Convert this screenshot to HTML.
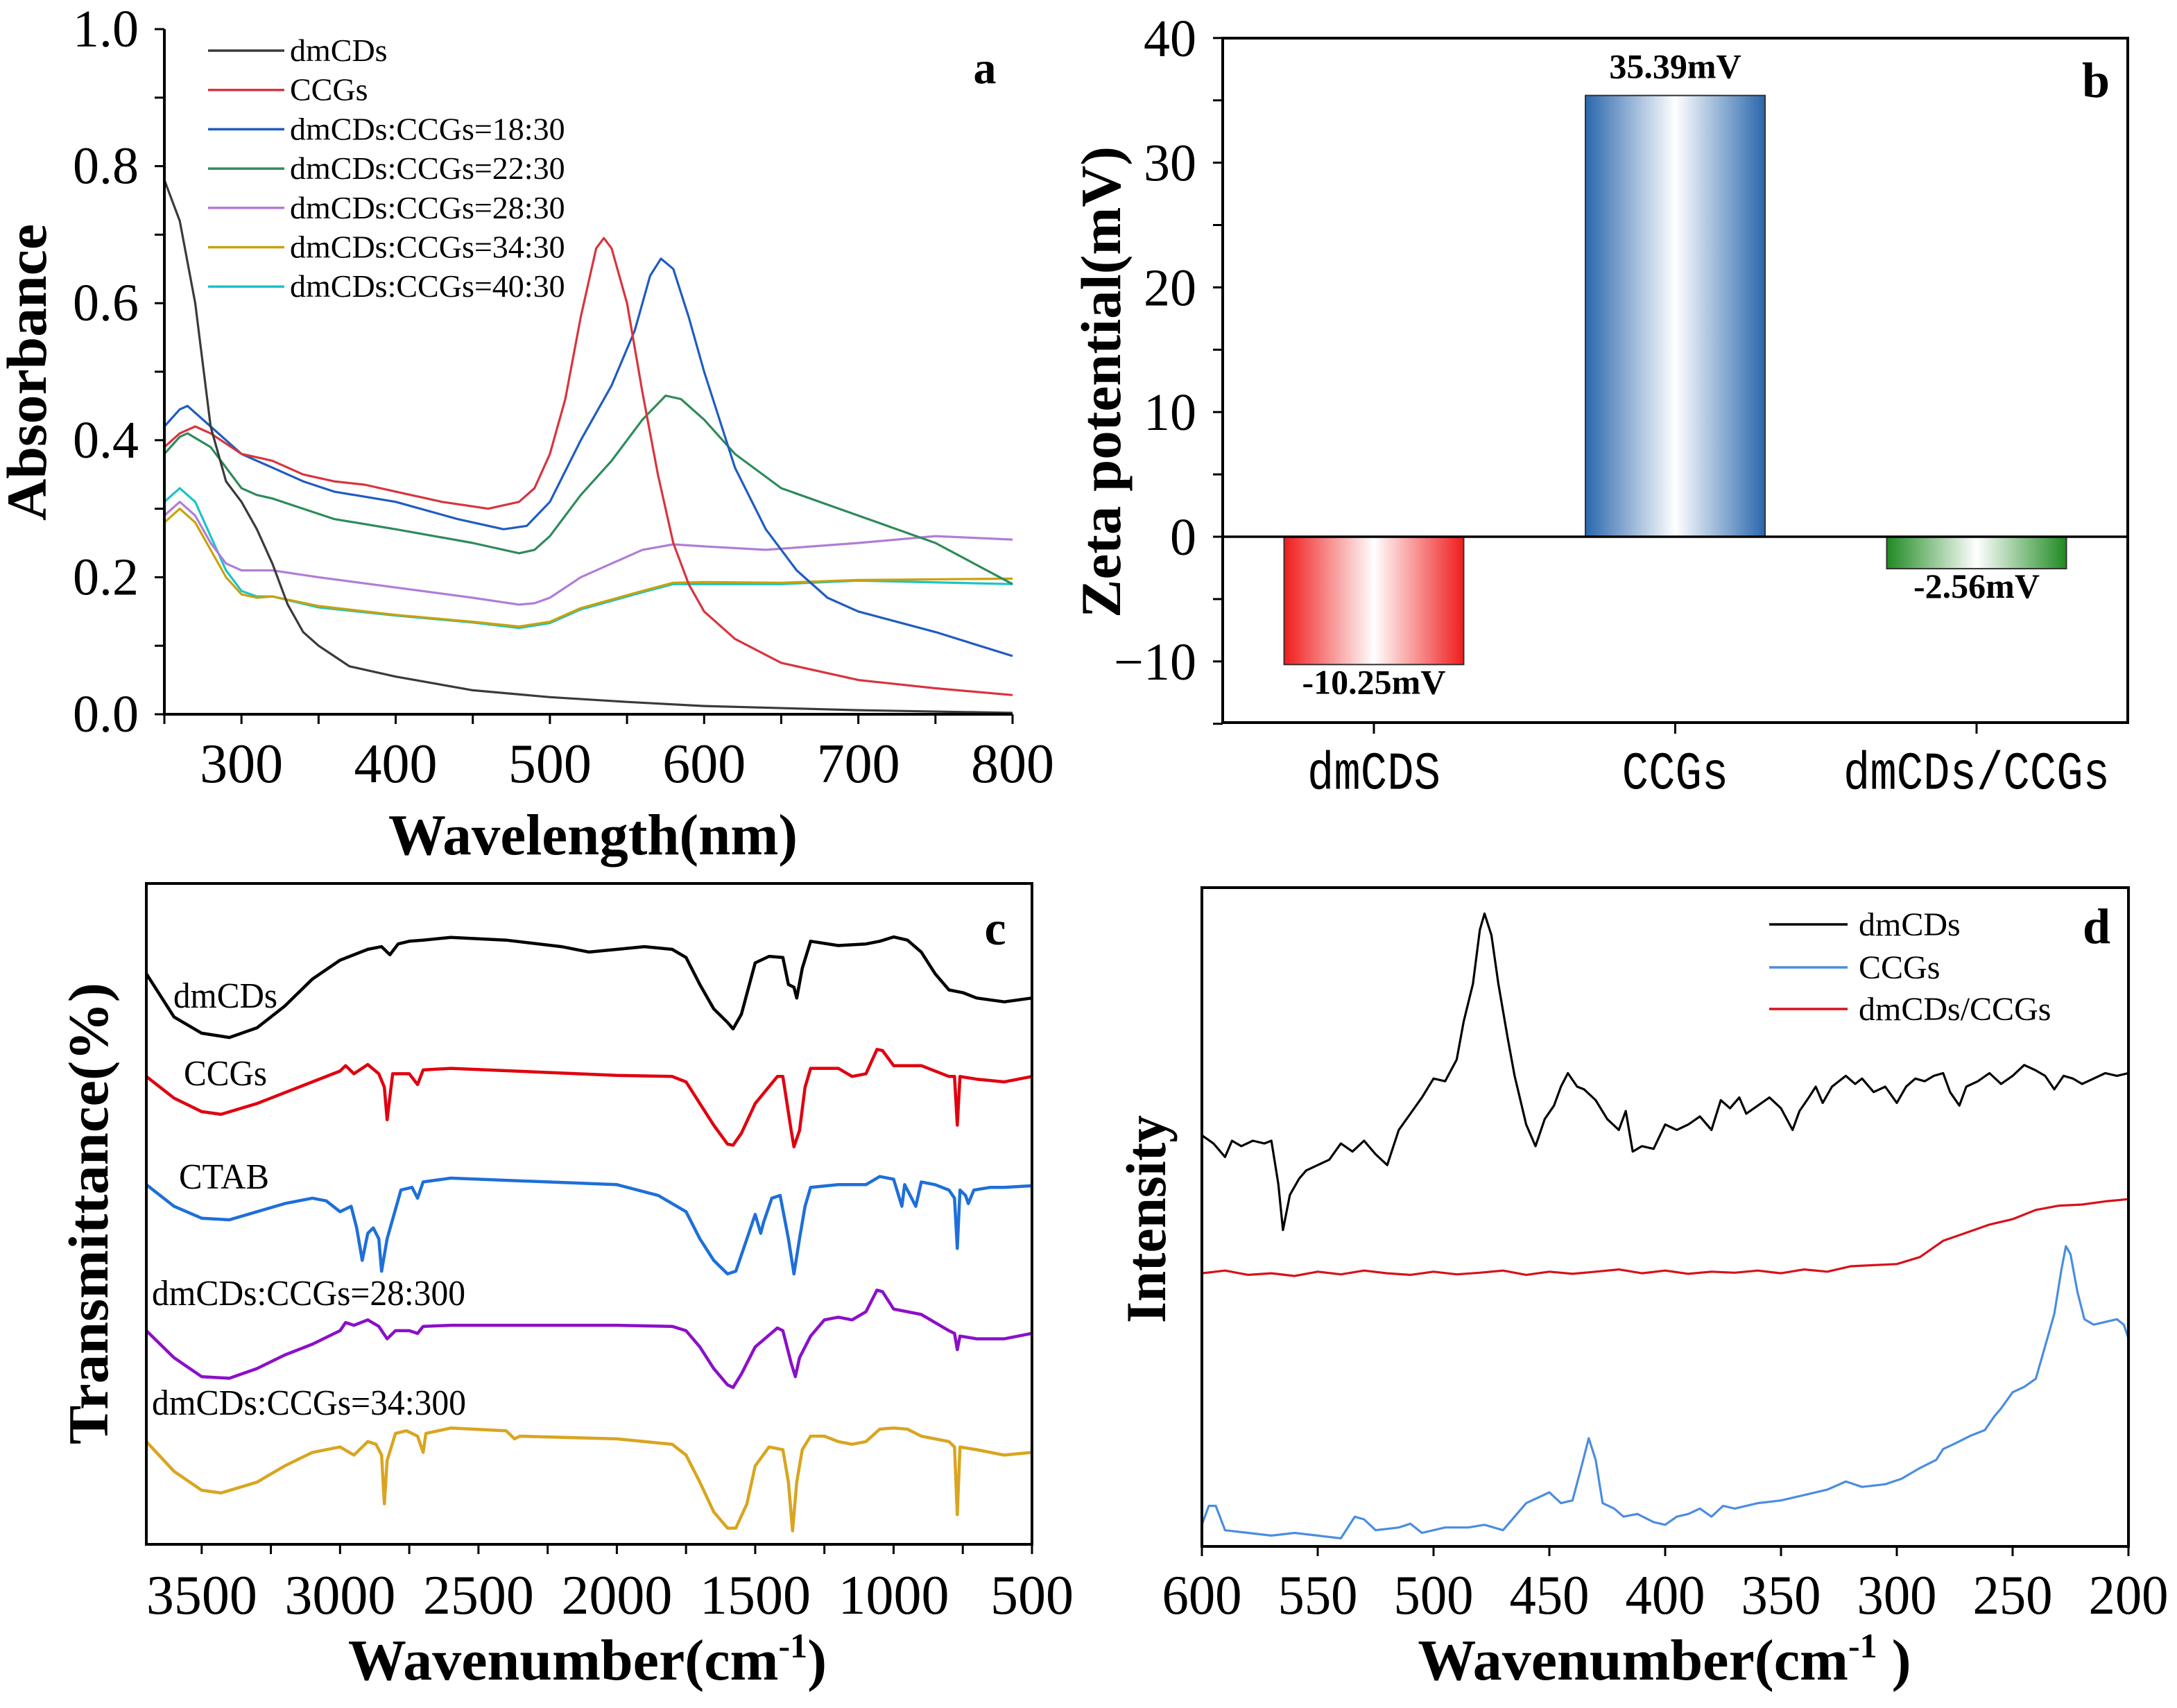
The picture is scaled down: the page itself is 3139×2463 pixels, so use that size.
<!DOCTYPE html>
<html><head><meta charset="utf-8"><title>Spectra figure</title>
<style>html,body{margin:0;padding:0;background:#fff}svg{display:block}text{font-family:"Liberation Serif",serif}text.mono{font-family:"Liberation Mono",monospace}</style>
</head><body>
<svg id="fig" width="3139" height="2463" viewBox="0 0 3139 2463" xmlns="http://www.w3.org/2000/svg">
<defs>
<linearGradient id="gRed" x1="0" x2="1" y1="0" y2="0"><stop offset="0" stop-color="#f01c1c"/><stop offset="0.5" stop-color="#ffffff"/><stop offset="1" stop-color="#f01c1c"/></linearGradient>
<linearGradient id="gBlue" x1="0" x2="1" y1="0" y2="0"><stop offset="0" stop-color="#2a67ad"/><stop offset="0.5" stop-color="#ffffff"/><stop offset="1" stop-color="#2a67ad"/></linearGradient>
<linearGradient id="gGreen" x1="0" x2="1" y1="0" y2="0"><stop offset="0" stop-color="#1f8a22"/><stop offset="0.5" stop-color="#ffffff"/><stop offset="1" stop-color="#1f8a22"/></linearGradient>
</defs>
<g id="pa"></g>
<g id="pb"></g>
<g id="pc"></g>
<g id="pd"></g>
</svg>
<script>
// ---------- Panel a data (UV-vis absorbance) ----------
const aSeriesNames = ["dmCDs","CCGs","dmCDs:CCGs=18:30","dmCDs:CCGs=22:30","dmCDs:CCGs=28:30","dmCDs:CCGs=34:30","dmCDs:CCGs=40:30"];
const aColors = ["#3a3a3a","#d8343e","#1f5cc0","#2e8b5a","#b07dd6","#c9a20a","#19c4c8"];
const aX0 = [250,260,270,280,290,300,310,320,330,340,350,360,370,400,450,500,550,600,700,800];
const aY0 = [0.78,0.72,0.60,0.42,0.34,0.31,0.27,0.22,0.16,0.12,0.10,0.085,0.07,0.055,0.035,0.025,0.018,0.012,0.006,0.002];
const aX1 = [250,260,270,280,300,320,340,360,380,400,430,460,480,490,500,510,520,530,535,540,550,560,570,580,590,600,620,650,700,750,800];
const aY1 = [0.39,0.41,0.42,0.41,0.38,0.37,0.35,0.34,0.335,0.325,0.31,0.30,0.31,0.33,0.38,0.46,0.58,0.68,0.695,0.68,0.60,0.47,0.35,0.25,0.19,0.15,0.11,0.075,0.05,0.038,0.028];
const aX2 = [250,260,265,280,300,320,340,360,400,440,470,485,500,520,540,555,565,572,580,590,600,620,640,660,680,700,750,800];
const aY2 = [0.42,0.445,0.45,0.42,0.38,0.36,0.34,0.325,0.31,0.285,0.27,0.275,0.31,0.40,0.48,0.56,0.64,0.665,0.65,0.58,0.50,0.36,0.27,0.21,0.17,0.15,0.12,0.085];
const aX3 = [250,260,265,280,300,310,320,340,360,400,450,480,490,500,520,540,560,575,585,600,620,650,700,750,800];
const aY3 = [0.38,0.405,0.41,0.39,0.33,0.32,0.315,0.30,0.285,0.27,0.25,0.235,0.24,0.26,0.32,0.37,0.43,0.465,0.46,0.43,0.38,0.33,0.29,0.25,0.19];
const aX4 = [250,260,270,280,290,300,320,350,400,450,480,490,500,520,540,560,580,600,640,700,750,800];
const aY4 = [0.29,0.31,0.29,0.25,0.22,0.21,0.21,0.20,0.185,0.17,0.16,0.162,0.17,0.20,0.22,0.24,0.248,0.245,0.24,0.25,0.26,0.255];
const aX5 = [250,260,270,280,290,300,310,320,350,400,450,480,500,520,560,580,600,650,700,800];
const aY5 = [0.28,0.30,0.28,0.24,0.20,0.175,0.17,0.172,0.158,0.145,0.135,0.128,0.135,0.155,0.18,0.192,0.193,0.192,0.196,0.198];
const aX6 = [250,260,270,280,290,300,310,320,350,400,450,480,500,520,560,580,600,650,700,800];
const aY6 = [0.31,0.33,0.31,0.26,0.21,0.18,0.172,0.172,0.156,0.144,0.134,0.126,0.133,0.153,0.178,0.19,0.19,0.19,0.195,0.19];
const aXTicks = [300,400,500,600,700,800];
const aYTicks = [0,0.2,0.4,0.6,0.8,1.0];
const aYTickLabels = ["0.0","0.2","0.4","0.6","0.8","1.0"];

// ---------- Panel b data (zeta potential) ----------
const bCategories = ["dmCDS","CCGs","dmCDs/CCGs"];
const bValues = [-10.25, 35.39, -2.56];
const bValueLabels = ["-10.25mV","35.39mV","-2.56mV"];
const bFills = ["url(#gRed)","url(#gBlue)","url(#gGreen)"];
const bYTicks = [-10,0,10,20,30,40];
const bYTickLabels = ["\u221210","0","10","20","30","40"];

// ---------- Panel c data (FTIR, a.u.) ----------
const cNames = ["dmCDs","CCGs","CTAB","dmCDs:CCGs=28:300","dmCDs:CCGs=34:300"];
const cColors = ["#000000","#e0000f","#1e6fd9","#8b10c8","#d9a520"];
const cX0 = [3700,3600,3500,3400,3300,3200,3100,3000,2900,2850,2820,2790,2750,2700,2600,2400,2200,2100,2000,1900,1800,1750,1700,1650,1600,1580,1550,1500,1450,1400,1380,1360,1350,1330,1300,1200,1100,1050,1000,950,900,850,800,750,700,600,500];
const cY0 = [1055,975,945,937,955,995,1045,1080,1100,1105,1090,1110,1115,1117,1122,1117,1105,1095,1100,1105,1100,1085,1035,990,965,953,980,1075,1087,1085,1035,1030,1010,1065,1115,1107,1110,1115,1123,1117,1095,1055,1025,1020,1010,1003,1010];
const cX1 = [3700,3600,3500,3430,3300,3200,3100,3000,2980,2950,2900,2860,2840,2830,2810,2750,2720,2700,2600,2000,1800,1750,1700,1650,1600,1580,1550,1500,1420,1400,1370,1360,1340,1320,1300,1200,1150,1100,1060,1040,1000,900,800,780,770,760,700,600,500];
const cY1 = [865,825,800,795,815,835,855,875,885,870,887,870,845,785,870,870,850,877,880,867,865,855,815,775,740,738,760,815,865,865,765,735,765,845,880,880,865,870,915,913,885,885,865,865,775,865,860,855,865];
const cX2 = [3700,3600,3500,3400,3300,3200,3100,3050,3000,2960,2940,2920,2900,2880,2860,2850,2830,2780,2740,2720,2700,2600,2000,1850,1750,1700,1650,1600,1570,1530,1500,1480,1470,1440,1410,1380,1360,1340,1320,1300,1200,1100,1050,1000,970,960,920,900,850,800,780,770,760,740,730,710,650,600,500];
const cY2 = [665,625,603,600,615,630,640,635,615,625,585,525,575,585,565,505,565,655,660,640,670,677,665,645,615,565,525,500,505,565,610,575,595,640,645,565,500,565,625,660,665,665,680,675,625,665,625,670,665,655,640,547,655,645,630,655,660,660,663];
const cX3 = [3700,3600,3500,3400,3300,3200,3100,3000,2980,2950,2900,2860,2830,2800,2750,2720,2700,2600,2000,1800,1750,1700,1650,1600,1580,1550,1500,1420,1400,1370,1355,1340,1300,1250,1200,1150,1100,1060,1040,1000,900,850,800,780,770,760,700,600,500];
const cY3 = [395,345,310,307,325,350,370,395,410,405,415,403,380,395,395,390,403,405,405,403,395,365,325,295,290,315,365,400,395,335,310,345,385,415,420,415,430,470,467,435,425,410,395,390,360,385,380,380,390];
const cX4 = [3700,3600,3500,3430,3300,3200,3100,3000,2950,2900,2870,2850,2840,2830,2800,2760,2720,2700,2690,2600,2400,2370,2350,2000,1800,1750,1700,1650,1600,1570,1530,1500,1450,1400,1380,1365,1350,1330,1300,1250,1200,1150,1100,1050,1000,950,900,800,780,770,760,700,600,500];
const cY4 = [190,135,100,95,115,145,170,180,165,190,185,165,75,155,205,210,200,170,205,215,210,195,200,195,185,165,115,60,30,30,75,145,180,175,115,25,115,175,200,200,190,185,190,213,215,213,200,190,180,55,180,175,165,170];
const cXTicks = [3500,3000,2500,2000,1500,1000,500];
const cLabelX = [250,265,258,219,219];
const cLabelW = [150,120,130,452,453];

// ---------- Panel d data (Raman, a.u.) ----------
const dNames = ["dmCDs","CCGs","dmCDs/CCGs"];
const dColors = ["#000000","#4a8de0","#d8101a"];
const dX0 = [600,595,590,587,583,578,573,570,567,565,562,558,555,550,545,540,535,530,525,520,515,510,505,500,495,490,487,483,480,478,475,472,468,465,460,456,452,448,445,442,438,435,430,425,420,417,414,410,405,400,395,390,385,380,376,372,368,365,360,355,350,345,342,338,335,332,328,322,318,315,310,305,300,296,292,288,284,280,277,273,270,265,260,255,250,245,240,236,232,228,224,220,215,210,205,200];
const dY0 = [760,745,720,750,740,750,745,750,670,585,650,680,695,705,715,745,730,750,725,705,770,800,830,865,860,900,970,1040,1140,1170,1130,1040,940,870,780,740,790,815,850,875,850,845,825,790,770,805,730,740,735,780,770,780,795,770,825,810,830,800,815,830,810,770,805,830,850,820,850,870,855,865,840,850,820,850,865,860,870,875,840,815,850,860,875,855,870,890,880,870,845,870,865,855,865,875,870,875,860];
const dX1 = [600,597,594,590,580,570,560,550,540,534,530,525,515,510,505,495,485,478,470,465,460,455,450,445,440,436,433,430,427,422,418,412,405,400,395,390,385,380,375,370,360,350,340,330,322,315,305,298,290,283,280,275,268,262,258,255,250,245,240,236,232,229,227,225,222,219,215,210,205,202,200];
const dY1 = [40,75,75,30,25,20,25,20,15,55,50,30,35,42,25,35,35,40,30,55,80,90,100,80,85,150,200,160,80,70,55,60,45,40,55,60,70,55,75,70,80,85,95,105,120,110,115,125,145,160,180,190,205,215,240,255,285,295,310,370,430,510,555,540,470,420,410,415,420,410,385];
const dX2 = [600,590,580,570,560,550,540,530,520,510,500,490,480,470,460,450,440,430,420,410,400,390,380,370,360,350,340,330,320,310,300,290,280,270,260,250,240,230,220,210,200];
const dY2 = [505,510,502,505,500,508,503,510,505,502,508,503,506,510,502,508,504,508,512,505,510,504,508,506,510,505,512,508,518,520,522,535,565,580,595,605,622,630,632,638,642];
const dXTicks = [600,550,500,450,400,350,300,250,200];

const NS = "http://www.w3.org/2000/svg";
function mk(parent, tag, attrs, text){
  const e = document.createElementNS(NS, tag);
  for (const k in attrs) e.setAttribute(k, attrs[k]);
  if (text !== undefined) e.textContent = text;
  parent.appendChild(e);
  return e;
}
function pathD(xs, ys, sx, sy){
  let d = "";
  for (let i=0;i<xs.length;i++) d += (i?"L":"M") + sx(xs[i]).toFixed(1) + " " + sy(ys[i]).toFixed(1);
  return d;
}

// ================= Panel a =================
(function(){
  const g = document.getElementById("pa");
  const sx = v => 237 + (v-250)/550*1223;
  const sy = v => 1030 - v*988;
  const series = [[aX0,aY0],[aX1,aY1],[aX2,aY2],[aX3,aY3],[aX4,aY4],[aX5,aY5],[aX6,aY6]];
  for (let i=series.length-1;i>=0;i--){
    const p = mk(g,"path",{d:pathD(series[i][0],series[i][1],sx,sy),fill:"none",stroke:aColors[i],"stroke-width":3.2,"stroke-linejoin":"round"});
    
    
  }
  const ax = mk(g,"path",{d:"M237 42 L237 1030 L1460 1030",fill:"none",stroke:"#000","stroke-width":4});
  
  
  for (let v=250; v<=800; v+=50){
    const t = mk(g,"line",{x1:sx(v),x2:sx(v),y1:1030,y2:1044,stroke:"#000","stroke-width":3});
    
    
  }
  aXTicks.forEach(v=>{
    const t = mk(g,"text",{x:sx(v),y:1128,"font-size":80,"text-anchor":"middle"},String(v));
    
    
  });
  for (let k=0;k<=10;k++){
    const v = k/10;
    const t = mk(g,"line",{x1:223,x2:237,y1:sy(v),y2:sy(v),stroke:"#000","stroke-width":3});
    
    
  }
  aYTicks.forEach((v,i)=>{
    const t = mk(g,"text",{x:200,y:sy(v)+25,"font-size":76,"text-anchor":"end"},aYTickLabels[i]);
    
    
  });
  const xt = mk(g,"text",{x:855,y:1232,"font-size":84,"font-weight":"bold","text-anchor":"middle",textLength:590,lengthAdjust:"spacingAndGlyphs"},"Wavelength(nm)");
  
  
  const yt = mk(g,"text",{x:0,y:0,"font-size":82,"font-weight":"bold","text-anchor":"middle",textLength:428,lengthAdjust:"spacingAndGlyphs",transform:"translate(66,537) rotate(-90)"},"Absorbance");
  
  
  const lab = mk(g,"text",{x:1420,y:120,"font-size":66,"font-weight":"bold","text-anchor":"middle"},"a");
  
  
  const legY0 = 73;
  aSeriesNames.forEach((n,i)=>{
    const y = legY0 + i*56.7;
    const l = mk(g,"line",{x1:300,x2:410,y1:y,y2:y,stroke:aColors[i],"stroke-width":3.5});
    
    
    const t = mk(g,"text",{x:418,y:y+15,"font-size":46},n);
    
    
  });
})();

// ================= Panel b =================
(function(){
  const g = document.getElementById("pb");
  const sy = v => 774 - v*17.98;
  const cx = i => 1981 + i*434.5;
  const bw = 259;
  bValues.forEach((v,i)=>{
    const y0 = sy(0), y1 = sy(v);
    const r = mk(g,"rect",{x:cx(i)-bw/2,y:Math.min(y0,y1),width:bw,height:Math.abs(y1-y0),fill:bFills[i],stroke:"#333","stroke-width":2});
    
    
    const ly = v>=0 ? y1-25 : y1+42;
    const t = mk(g,"text",{x:cx(i),y:ly,"font-size":50,"font-weight":"bold","text-anchor":"middle"},bValueLabels[i]);
    
    
    const tk = mk(g,"line",{x1:cx(i),x2:cx(i),y1:1042,y2:1058,stroke:"#000","stroke-width":3});
    
    
    const cl = mk(g,"text",{x:cx(i),y:1138,"class":"mono","font-size":64,"text-anchor":"middle",transform:"translate(0,-228) scale(1,1.2)"},bCategories[i]);
    
    
  });
  const fr = mk(g,"rect",{x:1763,y:55,width:1305,height:987,fill:"none",stroke:"#000","stroke-width":4});
  
  
  const zl = mk(g,"line",{x1:1763,x2:3068,y1:sy(0),y2:sy(0),stroke:"#000","stroke-width":3.5});
  
  
  for (let v=-15; v<=40; v+=5){
    const t = mk(g,"line",{x1:1749,x2:1763,y1:sy(v),y2:sy(v),stroke:"#000","stroke-width":3});
    
    
  }
  bYTicks.forEach((v,i)=>{
    const t = mk(g,"text",{x:1725,y:sy(v)+26,"font-size":76,"text-anchor":"end"},bYTickLabels[i]);
    
    
  });
  const yt = mk(g,"text",{x:0,y:0,"font-size":82,"font-weight":"bold","text-anchor":"middle",textLength:680,lengthAdjust:"spacingAndGlyphs",transform:"translate(1615,551) rotate(-90)"},"Zeta potential(mV)");
  
  
  const lab = mk(g,"text",{x:3022,y:140,"font-size":72,"font-weight":"bold","text-anchor":"middle"},"b");
  
  
})();

// ================= Panel c =================
(function(){
  const g = document.getElementById("pc");
  const sx = v => 211 + (3700-v)/3200*1277;
  const sy = v => 2227 - v*0.78;
  const series = [[cX0,cY0],[cX1,cY1],[cX2,cY2],[cX3,cY3],[cX4,cY4]];
  series.forEach((s,i)=>{
    const p = mk(g,"path",{d:pathD(s[0],s[1],sx,sy),fill:"none",stroke:cColors[i],"stroke-width":4.5,"stroke-linejoin":"round"});
    
    
  });
  const labYs = [1453,1565,1714,1882,2040];
  cNames.forEach((n,i)=>{
    const t = mk(g,"text",{x:cLabelX[i],y:labYs[i],"font-size":52,textLength:cLabelW[i],lengthAdjust:"spacingAndGlyphs"},n);
    
    
  });
  const fr = mk(g,"rect",{x:211,y:1274,width:1277,height:953,fill:"none",stroke:"#000","stroke-width":4});
  
  
  for (let v=3500; v>=500; v-=250){
    const t = mk(g,"line",{x1:sx(v),x2:sx(v),y1:2227,y2:2241,stroke:"#000","stroke-width":3});
    
    
  }
  cXTicks.forEach(v=>{
    const t = mk(g,"text",{x:sx(v),y:2327,"font-size":80,"text-anchor":"middle"},String(v));
    
    
  });
  const xt = mk(g,"text",{x:847,y:2422,"font-size":84,"font-weight":"bold","text-anchor":"middle"});
  
  
  xt.innerHTML = 'Wavenumber(cm<tspan dy="-32" font-size="50">-1</tspan><tspan dy="32">)</tspan>';
  const yt = mk(g,"text",{x:0,y:0,"font-size":82,"font-weight":"bold","text-anchor":"middle",textLength:666,lengthAdjust:"spacingAndGlyphs",transform:"translate(155,1750) rotate(-90)"},"Transmittance(%)");
  
  
  const lab = mk(g,"text",{x:1435,y:1362,"font-size":70,"font-weight":"bold","text-anchor":"middle"},"c");
  
  
})();

// ================= Panel d =================
(function(){
  const g = document.getElementById("pd");
  const sx = v => 1733 + (600-v)/400*1336;
  const sy = v => 2230 - v*0.78;
  const series = [[dX0,dY0],[dX1,dY1],[dX2,dY2]];
  series.forEach((s,i)=>{
    const p = mk(g,"path",{d:pathD(s[0],s[1],sx,sy),fill:"none",stroke:dColors[i],"stroke-width":3.2,"stroke-linejoin":"round"});
    
    
  });
  const fr = mk(g,"rect",{x:1733,y:1280,width:1336,height:950,fill:"none",stroke:"#000","stroke-width":4});
  
  
  dXTicks.forEach(v=>{
    const tk = mk(g,"line",{x1:sx(v),x2:sx(v),y1:2230,y2:2244,stroke:"#000","stroke-width":3});
    
    
    const t = mk(g,"text",{x:sx(v),y:2327,"font-size":80,"text-anchor":"middle",textLength:115,lengthAdjust:"spacingAndGlyphs"},String(v));
    
    
  });
  const xt = mk(g,"text",{x:2400,y:2422,"font-size":84,"font-weight":"bold","text-anchor":"middle"});
  
  
  xt.innerHTML = 'Wavenumber(cm<tspan dy="-32" font-size="50">-1</tspan><tspan dy="32"> )</tspan>';
  const yt = mk(g,"text",{x:0,y:0,"font-size":82,"font-weight":"bold","text-anchor":"middle",textLength:300,lengthAdjust:"spacingAndGlyphs",transform:"translate(1680,1758) rotate(-90)"},"Intensity");
  
  
  const lab = mk(g,"text",{x:3023,y:1360,"font-size":72,"font-weight":"bold","text-anchor":"middle"},"d");
  
  
  const legYs = [1333,1395,1455];
  dNames.forEach((n,i)=>{
    const l = mk(g,"line",{x1:2551,x2:2664,y1:legYs[i],y2:legYs[i],stroke:dColors[i],"stroke-width":3.5});
    
    
    const t = mk(g,"text",{x:2680,y:legYs[i]+16,"font-size":48},n);
    
    
  });
})();
</script>
</body></html>
